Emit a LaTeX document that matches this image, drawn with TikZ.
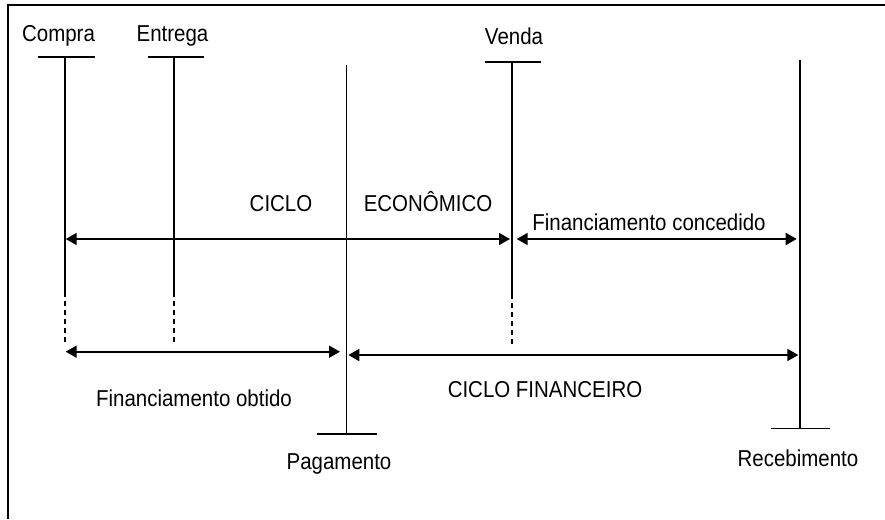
\documentclass[tikz,border=0pt]{standalone}
\usepackage{fontspec}
\setmainfont{Liberation Sans}[FakeStretch=0.89]
\usetikzlibrary{arrows.meta}

\begin{document}
\begin{tikzpicture}[x=1pt,y=-1pt,
	rotulo/.style={font=\fontsize{23}{27}\selectfont, anchor=base, inner sep=0pt},
	marco/.style={line width=1.3pt},
	tracejado/.style={line width=1.3pt, dash pattern=on 5pt off 4pt},
	seta/.style={{Triangle[length=11pt, width=12pt]}-{Triangle[length=11pt, width=12pt]}, line width=1.8pt}]
			\useasboundingbox (0,0) rectangle (885,519);
			\draw[line width=2pt] (8,519) -- (8,5) -- (885,5);
			
			% textos
			\node[rotulo] (compra)      at (58.5, 41.7)  {Compra};
			\node[rotulo] (entrega)     at (172.5,41.7)  {Entrega};
			\node[rotulo] (venda)       at (514,  45)    {Venda};
			\node[rotulo] (pagamento)   at (339,  469.3) {Pagamento};
			\node[rotulo] (recebimento) at (798,  466.7) {Recebimento};
			\node[rotulo] (ciclo)       at (281,  211.7) {CICLO};
			\node[rotulo] (economico)   at (428,  211.7) {ECONÔMICO};
			\node[rotulo] (fconcedido)  at (649,  230.7) {Financiamento concedido};
			\node[rotulo] (fobtido)     at (194,  406.7) {Financiamento obtido};
			\node[rotulo] (cfinanceiro) at (545,  397.5) {CICLO FINANCEIRO};
			
			% linhas de tempo
			\coordinate (c0) at (65,  57);  \coordinate (c1) at (65,  292); \coordinate (c2) at (65,  342);
			\coordinate (e0) at (174, 57);  \coordinate (e1) at (174, 292); \coordinate (e2) at (174, 342);
			\coordinate (v0) at (512, 62);  \coordinate (v1) at (512, 294); \coordinate (v2) at (512, 345);
			\coordinate (p0) at (346.5,65); \coordinate (p1) at (346.5,434);
			\coordinate (r0) at (800, 60);  \coordinate (r1) at (800, 428.5);
			
			\coordinate (cl) at (38,  57);  \coordinate (cr) at (95,  57);
			\coordinate (el) at (147.5,57); \coordinate (er) at (204, 57);
			\coordinate (vl) at (485, 62);  \coordinate (vr) at (541, 62);
			\coordinate (pl) at (317, 434); \coordinate (pr) at (377, 434);
			\coordinate (rl) at (770.5,428.5); \coordinate (rr) at (830, 428.5);
			
			\draw[marco] (cl) -- (cr);  \draw[marco] (c0) -- (c1);  \draw[tracejado] (c1) -- (c2);
			\draw[marco] (el) -- (er);  \draw[marco] (e0) -- (e1);  \draw[tracejado] (e1) -- (e2);
			\draw[marco] (vl) -- (vr);  \draw[marco] (v0) -- (v1);  \draw[tracejado] (v1) -- (v2);
			\draw[marco] (p0) -- (p1);  \draw[marco] (pl) -- (pr);
			\draw[marco] (r0) -- (r1);  \draw[marco] (rl) -- (rr);
			
			% ciclos
			\coordinate (a1) at (65.7, 239);  \coordinate (a2) at (510,  239);
			\coordinate (a3) at (516.7,239);  \coordinate (a4) at (796.7,239);
			\coordinate (a5) at (65.7, 351.7);\coordinate (a6) at (340,  351.7);
			\coordinate (a7) at (348.3,355);  \coordinate (a8) at (798.3,355);
			
			\path (a1) edge[seta] (a2);
			\path (a3) edge[seta] (a4);
			\path (a5) edge[seta] (a6);
			\path (a7) edge[seta] (a8);
			
		\end{tikzpicture}
\end{document}
